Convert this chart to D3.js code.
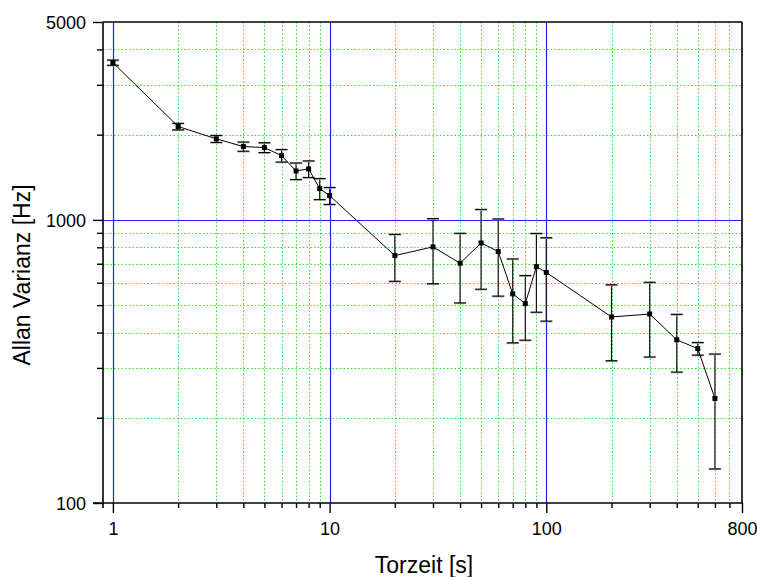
<!DOCTYPE html>
<html>
<head>
<meta charset="utf-8">
<script src="https://cdn.jsdelivr.net/npm/d3@7"></script>
<style>
  html, body { margin: 0; padding: 0; background: #fff; }
  svg { display: block; }
  text { font-family: "Liberation Sans", Arial, sans-serif; fill: #000; }
</style>
</head>
<body>
<svg id="chart" width="757" height="577"></svg>
<script>
// ---- data ----
const tau = [1, 2, 3, 4, 5, 6, 7, 8, 9, 10, 20, 30, 40, 50, 60, 70, 80, 90, 100, 200, 300, 400, 500, 600];
const avar = [3594, 2137, 1933, 1816, 1801, 1687, 1489, 1514, 1290, 1218, 748, 803, 703, 829, 773, 548, 506, 684, 652, 454, 465, 377, 351, 234];
const err = [76, 57, 55, 68, 72, 86, 100, 102, 110, 84, 141, 208, 194, 260, 235, 180, 130, 212, 213, 136, 137, 87, 18, 102];

const xMajorTicks = [1, 10, 100, 800];
const xMinorTicks = [2, 3, 4, 5, 6, 7, 8, 9, 20, 30, 40, 50, 60, 70, 80, 90, 200, 300, 400, 500, 600, 700];
const yMajorTicks = [100, 1000, 5000];
const yMinorTicks = [200, 300, 400, 500, 600, 700, 800, 900, 2000, 3000, 4000];
const xBlueLines = [1, 10, 100];
const yBlueLines = [1000];
const xTitle = "Torzeit [s]";
const yTitle = "Allan Varianz [Hz]";

// ---- layout ----
const L = 103, R = 742, T = 22, B = 503;
const svg = d3.select("#chart");
const x = d3.scaleLog().domain([0.9, 800]).range([L, R]);
const y = d3.scaleLog().domain([100, 5000]).range([B, T]);

// minor grid (green dotted)
const grid = svg.append("g");
grid.selectAll(".gx").data(xMinorTicks).join("line")
  .attr("x1", d => Math.round(x(d)) + 0.5).attr("x2", d => Math.round(x(d)) + 0.5)
  .attr("y1", T).attr("y2", B)
  .attr("stroke", "#1ee81e").attr("stroke-width", 1).attr("stroke-dasharray", "1.5,2.2");
grid.selectAll(".gy").data(yMinorTicks).join("line")
  .attr("y1", d => Math.round(y(d)) + 0.5).attr("y2", d => Math.round(y(d)) + 0.5)
  .attr("x1", L).attr("x2", R)
  .attr("stroke", "#1ee81e").attr("stroke-width", 1).attr("stroke-dasharray", "1.5,2.2");
// major grid (blue)
grid.selectAll(".bx").data(xBlueLines).join("line")
  .attr("x1", d => Math.round(x(d)) + 0.5).attr("x2", d => Math.round(x(d)) + 0.5)
  .attr("y1", T).attr("y2", B)
  .attr("stroke", "#2020ff").attr("stroke-width", 1.2);
grid.selectAll(".by").data(yBlueLines).join("line")
  .attr("y1", d => Math.round(y(d)) + 0.5).attr("y2", d => Math.round(y(d)) + 0.5)
  .attr("x1", L).attr("x2", R)
  .attr("stroke", "#2020ff").attr("stroke-width", 1.2);

// ---- data marks ----
const pts = tau.map((t, i) => ({ t, v: avar[i], e: err[i] }));
const g = svg.append("g");
// error bars
const capW = 6;
pts.forEach(p => {
  const cx = x(p.t), yt = y(p.v + p.e), yb = y(p.v - p.e);
  g.append("line").attr("x1", cx).attr("x2", cx).attr("y1", yt).attr("y2", yb)
    .attr("stroke", "#111").attr("stroke-width", 1.2);
  [yt, yb].forEach(yy => {
    g.append("line").attr("x1", cx - capW).attr("x2", cx + capW).attr("y1", yy + 0.8).attr("y2", yy + 0.8)
      .attr("stroke", "#aaa").attr("stroke-width", 1);
    g.append("line").attr("x1", cx - capW).attr("x2", cx + capW).attr("y1", yy).attr("y2", yy)
      .attr("stroke", "#000").attr("stroke-width", 1.2);
  });
});
// line
g.append("path")
  .datum(pts)
  .attr("d", d3.line().x(d => x(d.t)).y(d => y(d.v)))
  .attr("fill", "none").attr("stroke", "#000").attr("stroke-width", 1);
// markers
g.selectAll(".m").data(pts).join("rect")
  .attr("x", d => x(d.t) - 2.5).attr("y", d => y(d.v) - 2.5)
  .attr("width", 5).attr("height", 5).attr("fill", "#000");

// ---- axes ----
const ax = svg.append("g");
// frame top and right
ax.append("line").attr("x1", L).attr("x2", R).attr("y1", T).attr("y2", T).attr("stroke", "#000").attr("stroke-width", 1.6);
ax.append("line").attr("x1", R).attr("x2", R).attr("y1", T).attr("y2", B).attr("stroke", "#000").attr("stroke-width", 1.6);

// left axis
const leftMajor = ax.append("g").attr("transform", `translate(${L},0)`)
  .call(d3.axisLeft(y).tickValues(yMajorTicks).tickSize(10).tickPadding(7).tickFormat(d3.format("d")));
const leftMinor = ax.append("g").attr("transform", `translate(${L},0)`)
  .call(d3.axisLeft(y).tickValues(yMinorTicks).tickSize(6).tickFormat(""));
// bottom axis
const botMajor = ax.append("g").attr("transform", `translate(0,${B})`)
  .call(d3.axisBottom(x).tickValues(xMajorTicks).tickSize(10).tickPadding(9).tickFormat(d3.format("d")));
const botMinor = ax.append("g").attr("transform", `translate(0,${B})`)
  .call(d3.axisBottom(x).tickValues(xMinorTicks).tickSize(5).tickFormat(""));

[leftMajor, leftMinor, botMajor, botMinor].forEach(a => {
  a.select(".domain").remove();
  a.selectAll(".tick line").attr("stroke", "#000").attr("stroke-width", 1.4);
  a.selectAll("text").style("font-size", "18px").attr("font-family", "Liberation Sans, Arial, sans-serif");
});
leftMajor.selectAll("text").attr("dy", "0.36em");
// axis lines
ax.append("line").attr("x1", L).attr("x2", L).attr("y1", T).attr("y2", B + 5).attr("stroke", "#000").attr("stroke-width", 1.6);
ax.append("line").attr("x1", L - 10).attr("x2", R).attr("y1", B).attr("y2", B).attr("stroke", "#000").attr("stroke-width", 1.6);

// titles
svg.append("text").attr("x", 424).attr("y", 573).attr("text-anchor", "middle")
  .style("font-size", "23px").text(xTitle);
svg.append("text").attr("transform", "translate(30,275) rotate(-90)").attr("text-anchor", "middle")
  .style("font-size", "23px").text(yTitle);
</script>
</body>
</html>
